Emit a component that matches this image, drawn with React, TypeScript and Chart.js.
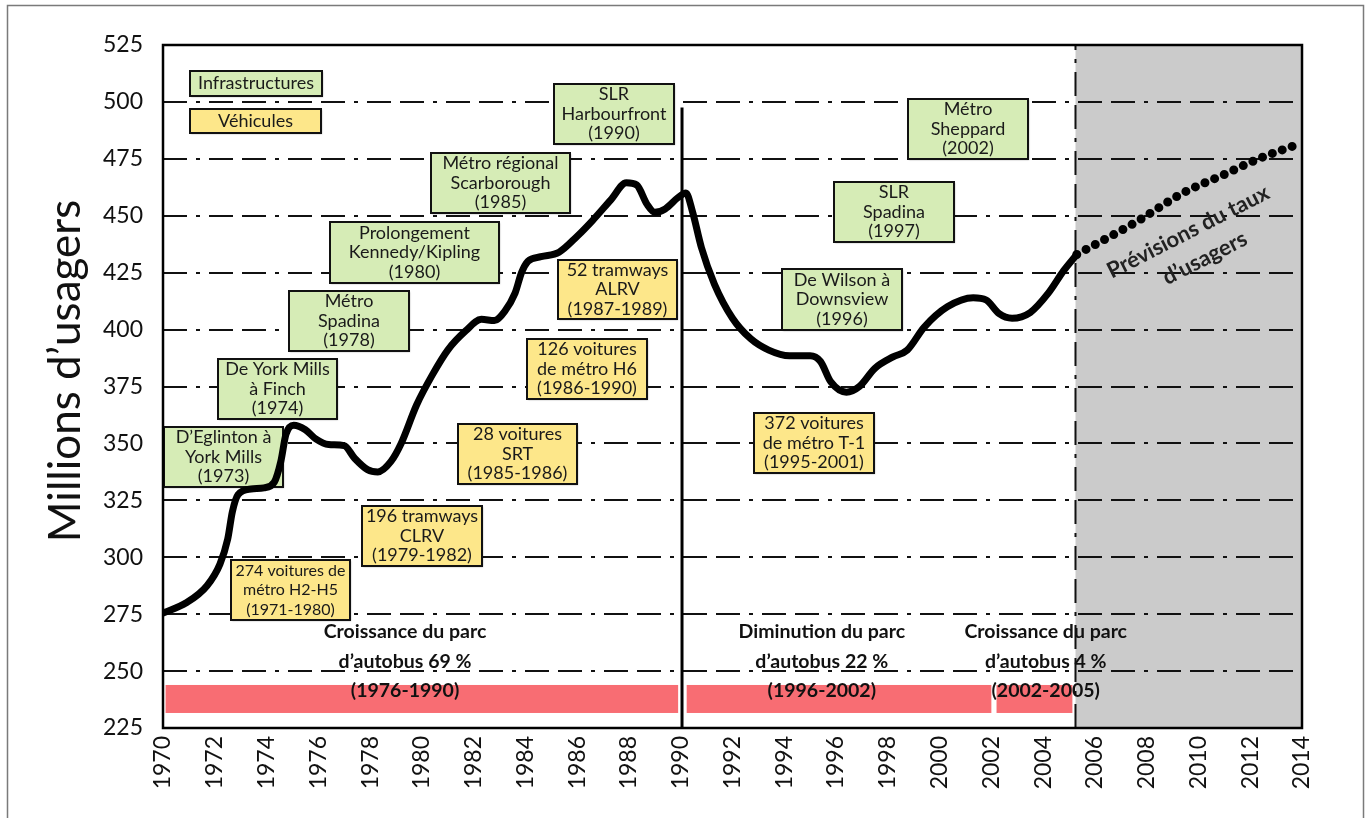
import React, { useEffect, useRef } from "react";
import { Chart, registerables } from "chart.js";

Chart.register(...registerables);

const FONT = "Lato, 'Open Sans', 'DejaVu Sans', sans-serif";

// ---- Data ----
const riderYears = [
  1970.0, 1970.9, 1971.7, 1972.2, 1972.5, 1972.68, 1972.9, 1973.4, 1973.9, 1974.3,
  1974.55, 1974.75, 1975.05, 1975.5, 1975.9, 1976.4, 1977.0, 1977.4, 1977.9, 1978.3,
  1978.8, 1979.2, 1979.8, 1980.4, 1981.0, 1981.7, 1982.3, 1982.8, 1983.2, 1983.6,
  1983.85, 1984.1, 1984.6, 1985.3, 1986.0, 1986.6, 1987.3, 1987.9, 1988.3, 1988.7,
  1989.0, 1989.4, 1989.9, 1990.2, 1990.45, 1990.8, 1991.3, 1992.0, 1992.7, 1993.4,
  1994.2, 1995.0, 1995.4, 1995.8, 1996.4, 1996.9, 1997.5, 1998.2, 1998.75, 1999.4,
  2000.3, 2001.3, 2001.8, 2002.3, 2002.8, 2003.5, 2004.2, 2004.8, 2005.3,
];
const riderValues = [
  275.5, 280, 287.5, 297, 308, 320, 327.5, 330, 330.5, 333,
  342, 354, 358, 356, 352, 349.5, 349, 343.5, 338.5, 337.5,
  342, 350, 367, 380, 391, 399.5, 404.5, 404, 408, 416,
  425, 430, 432, 434, 441, 448, 457, 464.5, 463.5, 455,
  451.5, 453, 458, 460, 452, 436, 420, 405, 396, 391,
  388.5, 388.5, 386, 377, 372.5, 375, 383, 388, 391, 401,
  410, 414, 413, 407, 405, 407.5, 416, 426, 433,
];
const forecastYears = [2005.3, 2007.6, 2009.4, 2010.95, 2012.4, 2013.75];
const forecastValues = [433, 447.3, 460, 467.9, 475.4, 481];

const yMin = 225;
const yMax = 525;
const yStep = 25;
const xMin = 1970;
const xMax = 2014;
const xStep = 2;

const milestoneYear = 1990.05;
const milestoneTop = 497.5;
const forecastStart = 2005.25;

const legendTexts = ["Infrastructures", "Véhicules"];
const legendBoxes = [
  [1971.04, 1976.14, 513.6, 502.6],
  [1971.04, 1976.1, 496.9, 486.3],
];

const infraTexts = [
  ["D’Eglinton à", "York Mills", "(1973)"],
  ["De York Mills", "à Finch", "(1974)"],
  ["Métro", "Spadina", "(1978)"],
  ["Prolongement", "Kennedy/Kipling", "(1980)"],
  ["Métro régional", "Scarborough", "(1985)"],
  ["SLR", "Harbourfront", "(1990)"],
  ["Métro", "Sheppard", "(2002)"],
  ["SLR", "Spadina", "(1997)"],
  ["De Wilson à", "Downsview", "(1996)"],
];
const infraBoxes = [
  [1970.04, 1974.64, 357.2, 330.9],
  [1972.12, 1976.72, 387.1, 360.7],
  [1974.87, 1979.5, 416.9, 390.5],
  [1976.45, 1982.98, 447.2, 420.5],
  [1980.35, 1985.72, 477.6, 451.2],
  [1985.1, 1989.74, 507.9, 481.5],
  [1998.78, 2003.42, 501.3, 474.9],
  [1995.92, 2000.56, 464.8, 438.5],
  [1993.91, 1998.55, 426.6, 399.8],
];

const vehicleTexts = [
  ["274 voitures de", "métro H2-H5", "(1971-1980)"],
  ["196 tramways", "CLRV", "(1979-1982)"],
  ["28 voitures", "SRT", "(1985-1986)"],
  ["126 voitures", "de métro H6", "(1986-1990)"],
  ["52 tramways", "ALRV", "(1987-1989)"],
  ["372 voitures", "de métro T-1", "(1995-2001)"],
];
const vehicleBoxes = [
  [1972.63, 1977.22, 298.8, 272.4],
  [1977.69, 1982.32, 322.5, 296.2],
  [1981.4, 1985.99, 358.5, 332.2],
  [1984.06, 1988.7, 395.9, 369.5],
  [1985.26, 1989.86, 430.6, 404.6],
  [1992.83, 1997.47, 363.3, 337.0],
];

const busTexts = [
  ["Croissance du parc", "d’autobus 69 %", "(1976-1990)"],
  ["Diminution du parc", "d’autobus 22 %", "(1996-2002)"],
  ["Croissance du parc", "d’autobus 4 %", "(2002-2005)"],
];
const busTextAnchors = [
  [1979.35, 267.2],
  [1995.45, 267.2],
  [2004.1, 267.2],
];
const busBars = [
  [1970.1, 1989.9],
  [1990.23, 2002.0],
  [2002.2, 2005.13],
];
const busBarRange = [231.6, 243.9];

const forecastLabel = ["Prévisions du taux", "d’usagers"];
const forecastLabelAnchor = [2009.6, 442.9];
const yTitle = "Millions d’usagers";

// ---- Styles ----
const GREEN = "#d6ecb6";
const YELLOW = "#fde78a";
const RED = "#f86d73";
const GREY = "#cbcbcb";
const GRID_DASH = [24, 9, 4, 9, 24, 9];

function drawBox(ctx: CanvasRenderingContext2D, chart: any, b: number[], lines: string[], fill: string) {
  const { x, y } = chart.scales;
  const x0 = Math.round(x.getPixelForValue(b[0]));
  const x1 = Math.round(x.getPixelForValue(b[1]));
  const y0 = Math.round(y.getPixelForValue(b[2]));
  const y1 = Math.round(y.getPixelForValue(b[3]));
  ctx.save();
  ctx.shadowColor = "rgba(0,0,0,0.35)";
  ctx.shadowBlur = 1.5;
  ctx.shadowOffsetX = 1;
  ctx.shadowOffsetY = 1;
  ctx.fillStyle = fill;
  ctx.fillRect(x0, y0, x1 - x0, y1 - y0);
  ctx.restore();
  ctx.save();
  ctx.strokeStyle = "#111";
  ctx.lineWidth = 2;
  ctx.setLineDash([]);
  ctx.strokeRect(x0, y0, x1 - x0, y1 - y0);
  ctx.fillStyle = "#1a1a1a";
  let size = 18;
  ctx.font = `${size}px ${FONT}`;
  const maxW = Math.max(...lines.map((t) => ctx.measureText(t).width));
  const avail = x1 - x0 - 6;
  if (maxW > avail) {
    size = Math.floor((size * avail) / maxW * 2) / 2;
    ctx.font = `${size}px ${FONT}`;
  }
  ctx.textAlign = "center";
  ctx.textBaseline = "middle";
  const cx = (x0 + x1) / 2;
  const cy = (y0 + y1) / 2;
  const lh = 19.5;
  lines.forEach((t, i) => {
    ctx.fillText(t, cx, cy + (i - (lines.length - 1) / 2) * lh);
  });
  ctx.restore();
}

const decorPlugin = {
  id: "decor",
  beforeDraw(chart: any) {
    const ctx = chart.ctx as CanvasRenderingContext2D;
    ctx.save();
    ctx.fillStyle = "#fff";
    ctx.fillRect(0, 0, chart.width, chart.height);
    ctx.strokeStyle = "#7a7a7a";
    ctx.lineWidth = 1.5;
    ctx.strokeRect(7.5, 5.5, 1356, 840);
    ctx.restore();
  },
  beforeDatasetsDraw(chart: any) {
    const ctx = chart.ctx as CanvasRenderingContext2D;
    const a = chart.chartArea;
    const { x, y } = chart.scales;
    ctx.save();
    const fx = x.getPixelForValue(forecastStart);
    ctx.fillStyle = GREY;
    ctx.fillRect(fx, a.top, a.right - fx, a.bottom - a.top);
    ctx.strokeStyle = "#111";
    ctx.lineWidth = 2;
    ctx.setLineDash(GRID_DASH);
    for (let v = yMin + yStep; v < yMax; v += yStep) {
      const py = Math.round(y.getPixelForValue(v));
      ctx.beginPath();
      ctx.moveTo(a.left, py);
      ctx.lineTo(a.right, py);
      ctx.stroke();
    }
    ctx.setLineDash([]);
    ctx.fillStyle = RED;
    const by0 = y.getPixelForValue(busBarRange[1]);
    const by1 = y.getPixelForValue(busBarRange[0]);
    busBars.forEach(([s, e]) => {
      const px0 = x.getPixelForValue(s);
      const px1 = x.getPixelForValue(e);
      ctx.fillRect(px0, by0, px1 - px0, by1 - by0);
    });
    ctx.restore();
    legendBoxes.forEach((b, i) => drawBox(ctx, chart, b, [legendTexts[i]], i === 0 ? GREEN : YELLOW));
    infraBoxes.forEach((b, i) => drawBox(ctx, chart, b, infraTexts[i], GREEN));
    vehicleBoxes.forEach((b, i) => drawBox(ctx, chart, b, vehicleTexts[i], YELLOW));
  },
  afterDatasetsDraw(chart: any) {
    const ctx = chart.ctx as CanvasRenderingContext2D;
    const a = chart.chartArea;
    const { x, y } = chart.scales;
    ctx.save();
    ctx.strokeStyle = "#000";
    ctx.lineWidth = 2.5;
    ctx.setLineDash([]);
    ctx.strokeRect(a.left, a.top, a.right - a.left, a.bottom - a.top);
    ctx.fillStyle = "#111";
    ctx.font = `bold 19.5px ${FONT}`;
    ctx.textAlign = "center";
    ctx.textBaseline = "middle";
    busTexts.forEach((lines, i) => {
      const cx = x.getPixelForValue(busTextAnchors[i][0]);
      const cy = y.getPixelForValue(busTextAnchors[i][1]);
      lines.forEach((t, j) => ctx.fillText(t, cx, cy + j * 29.5));
    });
    const fx = x.getPixelForValue(forecastLabelAnchor[0]);
    const fy = y.getPixelForValue(forecastLabelAnchor[1]);
    ctx.save();
    ctx.translate(fx, fy);
    ctx.rotate((-27 * Math.PI) / 180);
    ctx.font = `bold 22px ${FONT}`;
    ctx.fillStyle = "#222";
    ctx.fillText(forecastLabel[0], 0, 0);
    ctx.fillText(forecastLabel[1], 3, 31);
    ctx.restore();
    ctx.save();
    ctx.translate(80, 371);
    ctx.rotate(-Math.PI / 2);
    ctx.font = `44px ${FONT}`;
    ctx.fillStyle = "#111";
    ctx.textAlign = "center";
    ctx.textBaseline = "alphabetic";
    ctx.fillText(yTitle, 0, 0);
    ctx.restore();
    ctx.restore();
  },
};

export default function App() {
  const ref = useRef<HTMLCanvasElement | null>(null);
  useEffect(() => {
    if (!ref.current) return;
    const chart = new Chart(ref.current, {
      type: "line",
      data: {
        datasets: [
          {
            data: riderYears.map((v, i) => ({ x: v, y: riderValues[i] })),
            borderColor: "#000",
            borderWidth: 7,
            pointRadius: 0,
            cubicInterpolationMode: "monotone",
            borderCapStyle: "round",
            borderJoinStyle: "round",
            fill: false,
          },
          {
            data: forecastYears.map((v, i) => ({ x: v, y: forecastValues[i] })),
            borderColor: "#000",
            borderWidth: 9,
            borderDash: [0, 10.5],
            borderCapStyle: "round",
            pointRadius: 0,
            cubicInterpolationMode: "monotone",
            fill: false,
          },
          {
            data: [
              { x: milestoneYear, y: yMin },
              { x: milestoneYear, y: milestoneTop },
            ],
            borderColor: "#000",
            borderWidth: 3,
            pointRadius: 0,
            tension: 0,
            fill: false,
          },
          {
            data: [
              { x: forecastStart, y: yMin },
              { x: forecastStart, y: yMax },
            ],
            borderColor: "#111",
            borderWidth: 2,
            borderDash: GRID_DASH,
            pointRadius: 0,
            tension: 0,
            fill: false,
          },
        ],
      },
      options: {
        responsive: false,
        animation: false,
        devicePixelRatio: 1,
        layout: { padding: { top: 45, right: 65, left: 0, bottom: 0 } },
        plugins: { legend: { display: false }, tooltip: { enabled: false }, title: { display: false } },
        scales: {
          x: {
            type: "linear",
            min: xMin,
            max: xMax,
            grid: { display: false, drawTicks: false },
            border: { display: false },
            afterFit: (s: any) => {
              s.height = 90;
            },
            ticks: {
              stepSize: xStep,
              autoSkip: false,
              maxRotation: 90,
              minRotation: 90,
              padding: 8,
              color: "#111",
              font: { family: FONT, size: 23 },
              callback: (v: any) => String(v),
            },
          },
          y: {
            type: "linear",
            min: yMin,
            max: yMax,
            grid: { display: false, drawTicks: false },
            border: { display: false },
            afterFit: (s: any) => {
              s.width = 163;
            },
            ticks: {
              stepSize: yStep,
              padding: 20,
              color: "#111",
              font: { family: FONT, size: 23 },
              callback: (v: any) => String(v),
            },
          },
        },
      },
      plugins: [decorPlugin],
    } as any);
    return () => chart.destroy();
  }, []);
  return (
    <div style={{ position: "fixed", left: 0, top: 0, width: 1367, height: 818, background: "#fff" }}>
      <canvas ref={ref} width={1367} height={818} style={{ display: "block" }} />
    </div>
  );
}
